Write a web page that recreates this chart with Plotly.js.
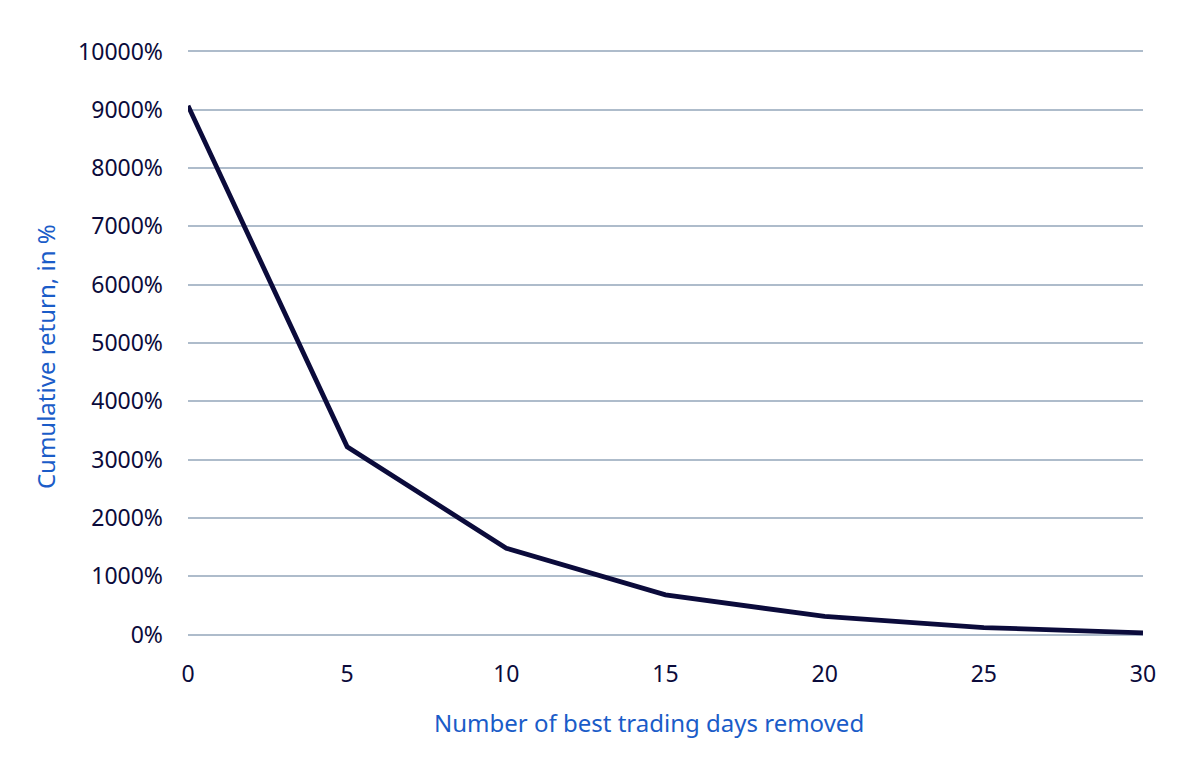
<!DOCTYPE html>
<html>
<head>
<meta charset="utf-8">
<script src="https://cdn.plot.ly/plotly-3.0.1.min.js"></script>
<style>
  html, body { margin: 0; padding: 0; background: #fff; }
  #chart { width: 1200px; height: 765px; }
</style>
</head>
<body>
<div id="chart"></div>
<script>
// best trading days removed vs cumulative return
var daysRemoved = [0, 5, 10, 15, 20, 25, 30];
var cumReturn = [9070, 3220, 1480, 680, 310, 120, 30];
var yTicks = [0, 1000, 2000, 3000, 4000, 5000, 6000, 7000, 8000, 9000, 10000];
var yTickText = yTicks.map(function (v) { return v + '%'; });
var xTitle = 'Number of best trading days removed';
var yTitle = 'Cumulative return, in %';

var navy = '#0b0b3b';
var blue = '#1a5cc8';
var gridCol = '#aebccb';
var fontFam = 'Noto Sans, Open Sans, sans-serif';

var data = [
  {
    x: daysRemoved,
    y: cumReturn,
    type: 'scatter',
    mode: 'lines',
    line: { color: navy, width: 4.8 },
    hoverinfo: 'x+y'
  }
];

// tiny padding on y so the 0% and 10000% gridlines are kept
var layout = {
  width: 1200,
  height: 765,
  margin: { l: 188, r: 57, t: 50, b: 129 },
  paper_bgcolor: '#ffffff',
  plot_bgcolor: '#ffffff',
  showlegend: false,
  font: { family: fontFam, size: 23, color: navy },
  xaxis: {
    range: [0, 30],
    tickvals: [0, 5, 10, 15, 20, 25, 30],
    showgrid: false,
    zeroline: false,
    showline: false,
    ticks: '',
    ticklabelstandoff: 22,
    tickfont: { family: fontFam, size: 23, color: navy }
  },
  yaxis: {
    range: [-25, 10025],
    tickvals: yTicks,
    ticktext: yTickText,
    showgrid: true,
    gridcolor: gridCol,
    gridwidth: 2,
    zeroline: false,
    showline: false,
    ticks: '',
    ticklabelstandoff: 24,
    tickfont: { family: fontFam, size: 23, color: navy }
  },
  // axis titles as annotations, they sit a bit off-centre in the original
  annotations: [
    {
      text: xTitle,
      xref: 'paper', yref: 'paper',
      x: 0.4827, y: -0.1468,
      xanchor: 'center', yanchor: 'middle',
      showarrow: false,
      font: { family: fontFam, size: 24, color: blue }
    },
    {
      text: yTitle,
      xref: 'paper', yref: 'paper',
      x: -0.1497, y: 0.476,
      xanchor: 'center', yanchor: 'middle',
      textangle: -90,
      showarrow: false,
      font: { family: fontFam, size: 24, color: blue }
    }
  ]
};

Plotly.newPlot('chart', data, layout, { displayModeBar: false, staticPlot: true });
</script>
</body>
</html>
